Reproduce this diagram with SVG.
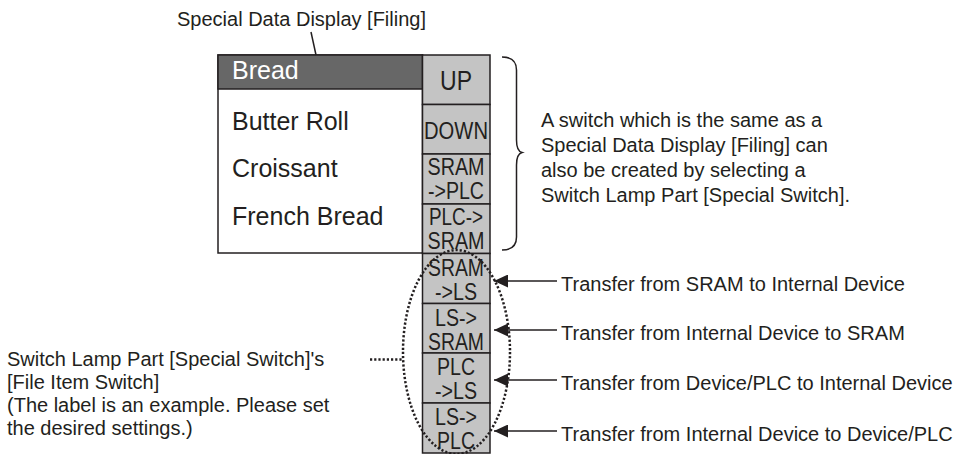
<svg xmlns="http://www.w3.org/2000/svg" width="957" height="454" viewBox="0 0 957 454">
<defs>
<style>
text{font-family:"Liberation Sans",Arial,Helvetica,sans-serif;fill:#231f20}
.t20{font-size:20px}
.list{font-size:25px}
.btn{font-size:23.5px;text-anchor:middle}
.cell{fill:#c4c4c4;stroke:#231f20;stroke-width:1.5}
.ln{stroke:#231f20;stroke-width:1.5;fill:none}
.dot{stroke:#231f20;stroke-width:2.5;fill:none;stroke-dasharray:2.2 2}
</style>
<marker id="ah" markerWidth="14" markerHeight="13" refX="14" refY="6.5" orient="auto" markerUnits="userSpaceOnUse"><path d="M0,0 L14,6.5 L0,13 z" fill="#231f20"/></marker>
</defs>
<rect width="957" height="454" fill="#ffffff"/>

<g id="title-label"><text class="t20" x="177" y="26">Special Data Display [Filing]</text></g>

<g id="list-box">
<rect x="218" y="55" width="204.5" height="198" fill="#ffffff" stroke="#231f20" stroke-width="1.5"/>
<rect x="218" y="55" width="204.5" height="34" fill="#676767" stroke="#231f20" stroke-width="1.5"/>
<text class="list" x="232" y="79" style="fill:#ffffff">Bread</text>
<text class="list" x="232" y="129.5">Butter Roll</text>
<text class="list" x="232" y="177">Croissant</text>
<text class="list" x="232" y="225">French Bread</text>
</g>

<g id="btn-up"><rect class="cell" x="422.5" y="55" width="67.5" height="49.5"/><text class="btn" x="456" y="90" style="font-size:27px" textLength="32" lengthAdjust="spacingAndGlyphs">UP</text></g>
<g id="btn-down"><rect class="cell" x="422.5" y="104.5" width="67.5" height="49.5"/><text class="btn" x="456" y="139" style="font-size:24px" textLength="64" lengthAdjust="spacingAndGlyphs">DOWN</text></g>
<g id="btn-sram-plc"><rect class="cell" x="422.5" y="154" width="67.5" height="50"/><text class="btn" x="456" y="174.5" textLength="57" lengthAdjust="spacingAndGlyphs">SRAM</text><text class="btn" x="456" y="199" textLength="56" lengthAdjust="spacingAndGlyphs">-&gt;PLC</text></g>
<g id="btn-plc-sram"><rect class="cell" x="422.5" y="204" width="67.5" height="49.5"/><text class="btn" x="456" y="224.5" textLength="54" lengthAdjust="spacingAndGlyphs">PLC-&gt;</text><text class="btn" x="456" y="249" textLength="57" lengthAdjust="spacingAndGlyphs">SRAM</text></g>
<g id="btn-sram-ls"><rect class="cell" x="422.5" y="253.5" width="67.5" height="50"/><text class="btn" x="456" y="275.5" textLength="56" lengthAdjust="spacingAndGlyphs">SRAM</text><text class="btn" x="456" y="299.5" textLength="42" lengthAdjust="spacingAndGlyphs">-&gt;LS</text></g>
<g id="btn-ls-sram"><rect class="cell" x="422.5" y="303.5" width="67.5" height="49.5"/><text class="btn" x="456" y="325.5" textLength="42" lengthAdjust="spacingAndGlyphs">LS-&gt;</text><text class="btn" x="456" y="349.5" textLength="56" lengthAdjust="spacingAndGlyphs">SRAM</text></g>
<g id="btn-plc-ls"><rect class="cell" x="422.5" y="353" width="67.5" height="50"/><text class="btn" x="456" y="375" textLength="38" lengthAdjust="spacingAndGlyphs">PLC</text><text class="btn" x="456" y="399" textLength="42" lengthAdjust="spacingAndGlyphs">-&gt;LS</text></g>
<g id="btn-ls-plc"><rect class="cell" x="422.5" y="403" width="67.5" height="50"/><text class="btn" x="456" y="425" textLength="42" lengthAdjust="spacingAndGlyphs">LS-&gt;</text><text class="btn" x="456" y="449" textLength="38" lengthAdjust="spacingAndGlyphs">PLC</text></g>

<g id="note-text">
<text class="t20" x="541" y="126.5">A switch which is the same as a</text>
<text class="t20" x="541" y="151.5">Special Data Display [Filing] can</text>
<text class="t20" x="541" y="176.5">also be created by selecting a</text>
<text class="t20" x="541" y="201.5">Switch Lamp Part [Special Switch].</text>
</g>

<g id="left-label">
<text class="t20" x="7" y="366">Switch Lamp Part [Special Switch]'s</text>
<text class="t20" x="7" y="389">[File Item Switch]</text>
<text class="t20" x="7" y="412">(The label is an example. Please set</text>
<text class="t20" x="7" y="435">the desired settings.)</text>
</g>

<g id="transfer-labels">
<text class="t20" x="561" y="291">Transfer from SRAM to Internal Device</text>
<text class="t20" x="561" y="340">Transfer from Internal Device to SRAM</text>
<text class="t20" x="561" y="390">Transfer from Device/PLC to Internal Device</text>
<text class="t20" x="561" y="441">Transfer from Internal Device to Device/PLC</text>
</g>

<g id="connectors">
<line class="ln" x1="311" y1="32" x2="316" y2="55"/>
<path class="ln" d="M502,57 Q516.5,57 516.5,70 L516.5,140 Q516.5,151 522,152.5 Q516.5,154 516.5,165 L516.5,237 Q516.5,250 502,250"/>
<ellipse class="dot" cx="456.5" cy="352" rx="53.5" ry="102"/>
<line class="dot" x1="370" y1="359.5" x2="403" y2="359.5"/>
<line class="ln" x1="557" y1="281" x2="494" y2="281" marker-end="url(#ah)"/>
<line class="ln" x1="557" y1="330" x2="494" y2="330" marker-end="url(#ah)"/>
<line class="ln" x1="557" y1="380" x2="494" y2="380" marker-end="url(#ah)"/>
<line class="ln" x1="557" y1="431" x2="494" y2="431" marker-end="url(#ah)"/>
</g>
</svg>
